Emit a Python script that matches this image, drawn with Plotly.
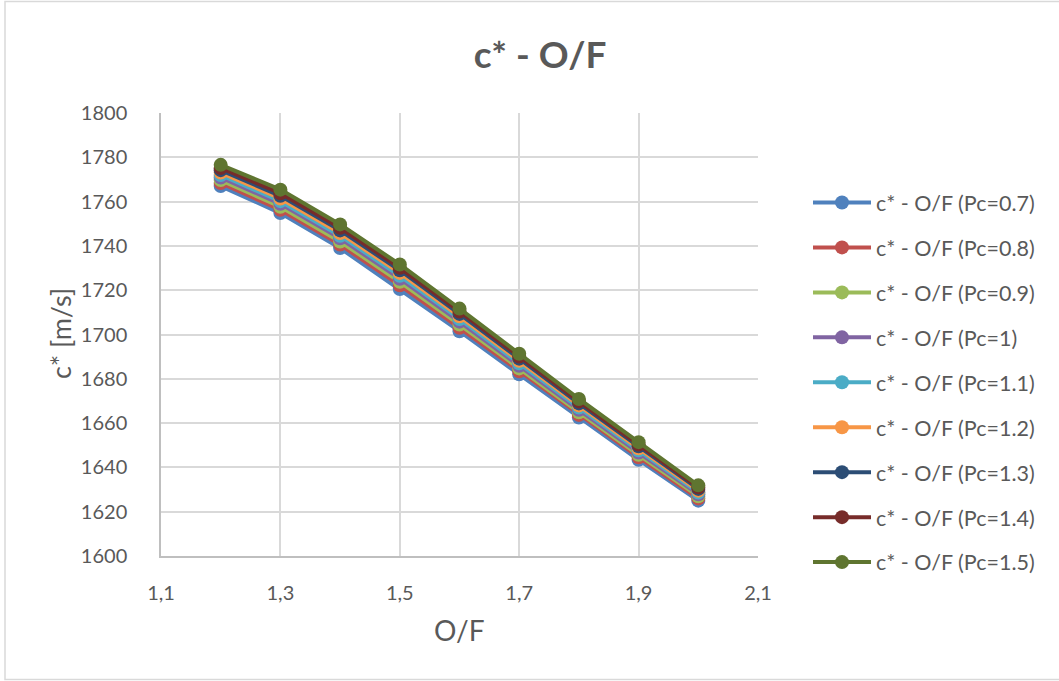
import plotly.graph_objects as go

of_ratio = [1.2, 1.3, 1.4, 1.5, 1.6, 1.7, 1.8, 1.9, 2.0]

series_names = [
    "c* - O/F (Pc=0.7)", "c* - O/F (Pc=0.8)", "c* - O/F (Pc=0.9)",
    "c* - O/F (Pc=1)", "c* - O/F (Pc=1.1)", "c* - O/F (Pc=1.2)",
    "c* - O/F (Pc=1.3)", "c* - O/F (Pc=1.4)", "c* - O/F (Pc=1.5)",
]

pc_07 = [1767.0, 1754.8, 1739.0, 1720.5, 1701.5, 1682.0, 1662.5, 1643.4, 1625.0]
pc_08 = [1768.4, 1756.3, 1740.6, 1722.2, 1703.0, 1683.4, 1663.7, 1644.6, 1626.0]
pc_09 = [1769.7, 1757.7, 1742.0, 1723.8, 1704.5, 1684.7, 1664.9, 1645.7, 1627.0]
pc_10 = [1770.9, 1759.0, 1743.4, 1725.2, 1705.8, 1685.9, 1666.0, 1646.7, 1627.9]
pc_11 = [1772.0, 1760.2, 1744.6, 1726.5, 1707.0, 1687.0, 1667.0, 1647.7, 1628.7]
pc_12 = [1773.1, 1761.4, 1745.8, 1727.8, 1708.2, 1688.1, 1668.0, 1648.6, 1629.5]
pc_13 = [1774.2, 1762.6, 1747.0, 1729.0, 1709.3, 1689.1, 1668.9, 1649.5, 1630.3]
pc_14 = [1775.2, 1763.8, 1748.2, 1730.1, 1710.4, 1690.1, 1669.8, 1650.3, 1631.0]
pc_15 = [1776.6, 1765.4, 1749.7, 1731.6, 1711.7, 1691.3, 1670.9, 1651.4, 1631.9]

series_values = [pc_07, pc_08, pc_09, pc_10, pc_11, pc_12, pc_13, pc_14, pc_15]

colors = ["#4F81BD", "#C0504D", "#9BBB59", "#8064A2", "#4BACC6",
          "#F79646", "#2C4D75", "#772C2A", "#5F7530"]

FONT = "Lato, 'Open Sans', sans-serif"
TXT = "#595959"

fig = go.Figure()
for name, vals, col in zip(series_names, series_values, colors):
    fig.add_trace(go.Scatter(
        x=of_ratio, y=vals, name=name, mode="lines+markers",
        line=dict(color=col, width=4),
        marker=dict(color=col, size=14),
        legendgroup=name,
    ))

W, H = 1059, 681
L, R, T, B = 161, 301, 113, 125
pw, ph = W - L - R, H - T - B

def px_x(px):
    return (px - L) / pw

def px_y(py):
    return 1 - (py - T) / ph

fig.update_layout(
    width=W, height=H,
    margin=dict(l=L, r=R, t=T, b=B),
    paper_bgcolor="white", plot_bgcolor="white",
    separators=",.",
    font=dict(family=FONT, color=TXT, size=20),
    title=dict(text="<b>c* - O/F</b>", x=540 / W, xanchor="center",
               y=1 - 55 / H, yanchor="middle", xref="container", yref="container",
               font=dict(size=37, color=TXT, family=FONT)),
    showlegend=True,
    legend=dict(x=px_x(808), y=px_y(182), xanchor="left", yanchor="top",
                font=dict(size=21.5, color=TXT, family=FONT),
                tracegroupgap=14, itemwidth=58, bgcolor="rgba(0,0,0,0)"),
    xaxis=dict(range=[1.1, 2.1], tick0=1.1, dtick=0.2, showgrid=True,
               gridcolor="#d9d9d9", gridwidth=1.5, showline=True,
               linecolor="#bfbfbf", linewidth=1.5, ticks="", zeroline=False,
               tickformat=".1f", ticklabelstandoff=18,
               tickfont=dict(size=20, color=TXT)),
    yaxis=dict(range=[1600, 1800], dtick=20, showgrid=True,
               gridcolor="#d9d9d9", gridwidth=1.5, showline=True,
               linecolor="#bfbfbf", linewidth=1.5, ticks="", zeroline=False,
               ticklabelstandoff=28, tickfont=dict(size=20, color=TXT)),
    annotations=[
        dict(text="c* [m/s]", x=px_x(60), y=px_y(334), xref="paper", yref="paper",
             textangle=-90, showarrow=False, font=dict(size=27, color=TXT),
             xanchor="center", yanchor="middle"),
        dict(text="O/F", x=px_x(459), y=px_y(630), xref="paper", yref="paper",
             showarrow=False, font=dict(size=28, color=TXT),
             xanchor="center", yanchor="middle"),
    ],
    shapes=[dict(type="rect", xref="paper", yref="paper",
                 x0=px_x(5), x1=px_x(1075), y0=px_y(679.5), y1=px_y(1.5),
                 line=dict(color="#d9d9d9", width=1.5), layer="below")],
)

fig.write_html("out.html")
